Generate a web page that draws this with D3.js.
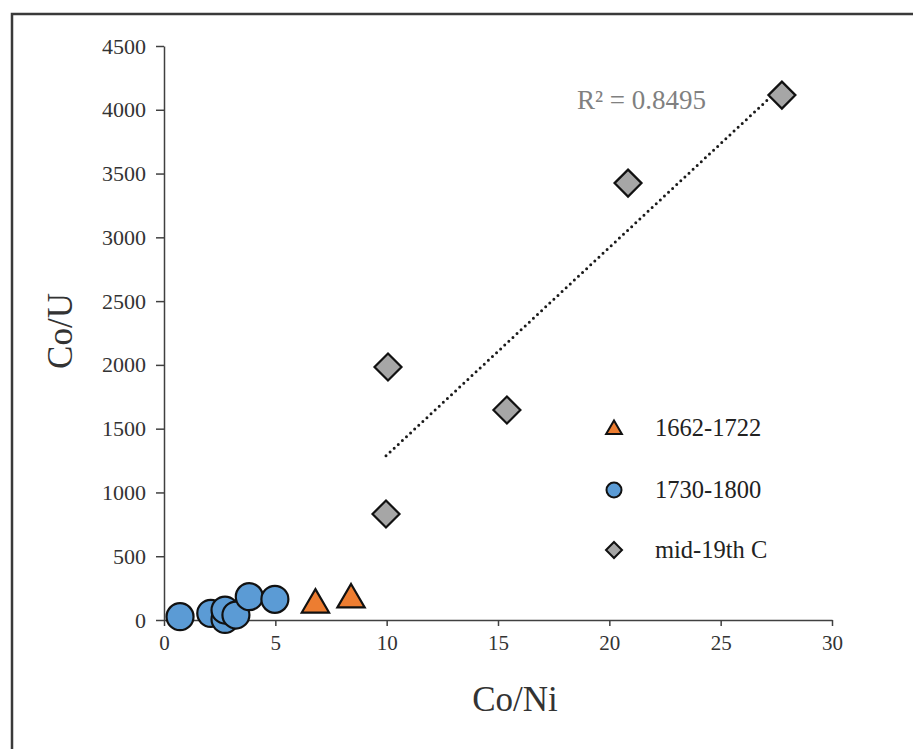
<!DOCTYPE html>
<html><head><meta charset="utf-8">
<script src="https://cdn.jsdelivr.net/npm/d3@7"></script>
<style>body{margin:0;background:#fff;}svg{display:block;}</style>
</head><body><svg id="c" width="913" height="749"></svg>
<script>
// Data
const seriesNames = ["1662-1722", "1730-1800", "mid-19th C"];
const triX = [6.8, 8.4];
const triY = [140, 180];
const circX = [0.72, 2.1, 2.74, 2.74, 3.23, 3.83, 4.98];
const circY = [26, 52, 5, 78, 39, 183, 162];
const diaX = [10.06, 9.97, 15.4, 20.84, 27.75];
const diaY = [1983, 831, 1646, 3425, 4115];
const xTicks = [0, 5, 10, 15, 20, 25, 30];
const yTicks = [0, 500, 1000, 1500, 2000, 2500, 3000, 3500, 4000, 4500];
const r2Label = "R² = 0.8495";

const svg = d3.select("#c");
const x = d3.scaleLinear().domain([0, 30]).range([164, 832]);
const y = d3.scaleLinear().domain([0, 4500]).range([620, 46]);
const serif = "'Liberation Serif','Times New Roman',serif";

// frame
svg.append("path").attr("d","M12,760 L12,14 L920,14").attr("fill","none").attr("stroke","#3a3a3a").attr("stroke-width",2.5);

// axes
const xa = svg.append("g").attr("transform","translate(0,620)")
  .call(d3.axisBottom(x).tickValues(xTicks).tickFormat(d3.format("d")).tickSize(6).tickPadding(9).tickSizeOuter(0));
const ya = svg.append("g").attr("transform","translate(164,0)")
  .call(d3.axisLeft(y).tickValues(yTicks).tickFormat(d3.format("d")).tickSize(8).tickPadding(10).tickSizeOuter(0));
[xa, ya].forEach(a => {
  a.attr("font-size", null);
  a.select(".domain").attr("stroke","#404040").attr("stroke-width",1.5);
  a.selectAll(".tick line").attr("stroke","#404040").attr("stroke-width",1.5);
  a.selectAll(".tick text").attr("font-family",serif).attr("fill","#333");
});
xa.selectAll(".tick text").style("font-size","21px");
ya.selectAll(".tick text").style("font-size","22px");

// axis titles
svg.append("text").attr("x",515).attr("y",711).attr("text-anchor","middle")
  .attr("font-family",serif).attr("font-size",35).attr("fill","#333").text("Co/Ni");
svg.append("text").attr("transform","translate(72,331) rotate(-90)").attr("text-anchor","middle")
  .attr("font-family",serif).attr("font-size",35).attr("fill","#333").text("Co/U");

// trendline from regression of diamonds
const mx = d3.mean(diaX), my = d3.mean(diaY);
let sxy = 0, sxx = 0;
diaX.forEach((v,i) => { sxy += (v-mx)*(diaY[i]-my); sxx += (v-mx)*(v-mx); });
const slope = sxy/sxx, icpt = my - slope*mx;
const x0 = d3.min(diaX), x1 = d3.max(diaX);
svg.append("line").attr("x1",x(x0)).attr("y1",y(slope*x0+icpt)).attr("x2",x(x1)).attr("y2",y(slope*x1+icpt))
  .attr("stroke","#1a1a1a").attr("stroke-width",3).attr("stroke-linecap","round").attr("stroke-dasharray","0 5.6");

svg.append("text").attr("x",577).attr("y",109).attr("font-family",serif).attr("font-size",27).attr("fill","#808080").text(r2Label);

const stroke = "#111", sw = 2.2;
// diamonds
const diaPath = s => `M0,${-s} L${s},0 L0,${s} L${-s},0 Z`;
svg.append("g").selectAll("path").data(diaX).join("path")
  .attr("transform",(d,i)=>`translate(${x(d)},${y(diaY[i])})`)
  .attr("d",diaPath(13.5)).attr("fill","#a6a6a6").attr("stroke",stroke).attr("stroke-width",sw).attr("stroke-linejoin","miter");

// circles (drawn in order)
svg.append("g").selectAll("circle").data(circX).join("circle")
  .attr("cx",d=>x(d)).attr("cy",(d,i)=>y(circY[i])).attr("r",13.5)
  .attr("fill","#5b9bd5").attr("stroke",stroke).attr("stroke-width",sw);

// triangles
const triPath = s => `M0,${-s} L${s*1.05},${s*0.8} L${-s*1.05},${s*0.8} Z`;
svg.append("g").selectAll("path").data(triX).join("path")
  .attr("transform",(d,i)=>`translate(${x(d)},${y(triY[i])})`)
  .attr("d",triPath(13)).attr("fill","#ed7d31").attr("stroke",stroke).attr("stroke-width",sw).attr("stroke-linejoin","miter");

// legend
const legY = [428, 490, 550];
const lg = svg.append("g");
lg.append("path").attr("transform",`translate(614,${legY[0]})`).attr("d",triPath(7.5))
  .attr("fill","#ed7d31").attr("stroke",stroke).attr("stroke-width",2);
lg.append("circle").attr("cx",614).attr("cy",legY[1]).attr("r",7.5)
  .attr("fill","#5b9bd5").attr("stroke",stroke).attr("stroke-width",2);
lg.append("path").attr("transform",`translate(614,${legY[2]})`).attr("d",diaPath(8))
  .attr("fill","#a6a6a6").attr("stroke",stroke).attr("stroke-width",2);
lg.selectAll("text").data(seriesNames).join("text")
  .attr("x",655).attr("y",(d,i)=>legY[i]+8).attr("font-family",serif).attr("font-size",24.5).attr("fill","#222").text(d=>d);
</script></body></html>
